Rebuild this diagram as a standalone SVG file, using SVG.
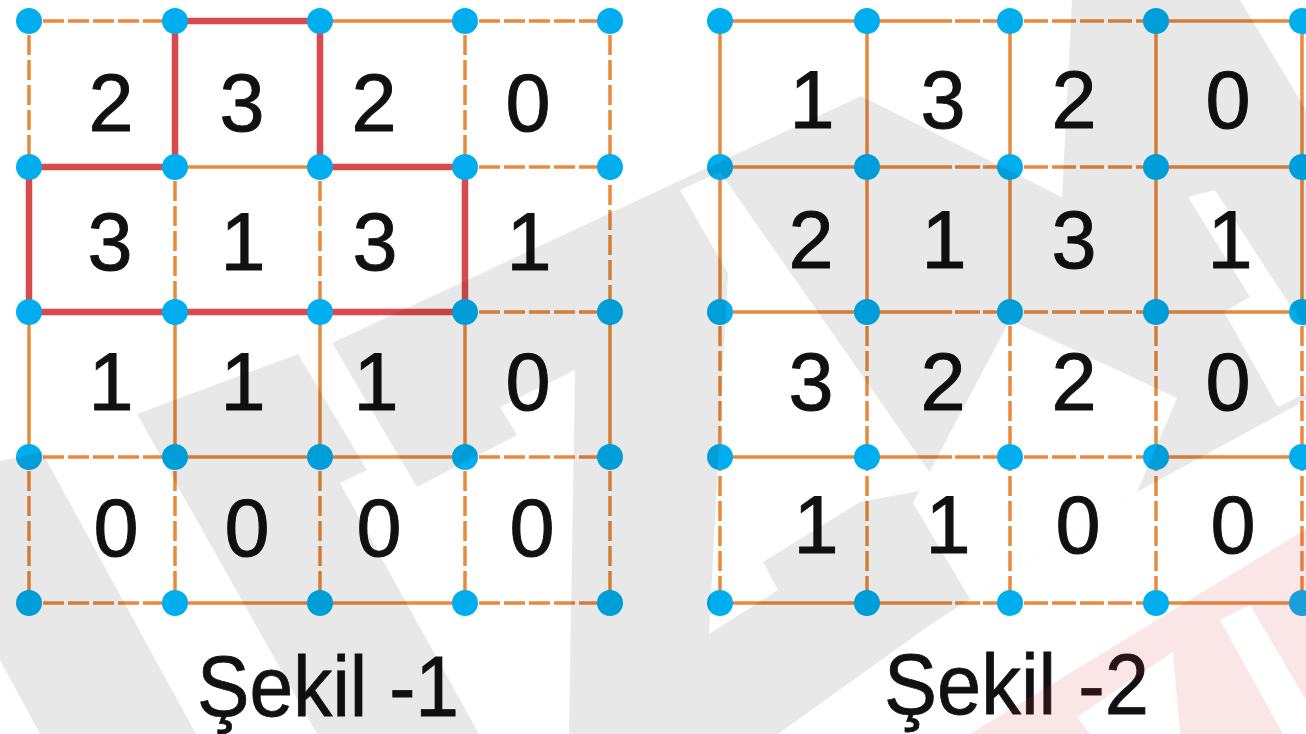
<svg xmlns="http://www.w3.org/2000/svg" width="1306" height="734" viewBox="0 0 1306 734">
<style>
.o{stroke:#E8893C;stroke-width:3.5;fill:none}
.hd{stroke-dasharray:21 4;stroke-dashoffset:-14}
.vd{stroke-dasharray:20 5;stroke-dashoffset:-14}
.hd2{stroke-dasharray:24 4;stroke-dashoffset:-14}
.ms{stroke-dasharray:85 3 25 3 60}
.r{stroke:#DA4A4D;stroke-width:6.5;fill:none;stroke-linecap:butt}
.dot{fill:#00AEEF}
.n{font-family:"Liberation Sans",Arial,sans-serif;font-size:81px;fill:#111;stroke:#111;stroke-width:1;text-anchor:middle}
.lbl{font-family:"Liberation Sans",Arial,sans-serif;font-size:85px;fill:#111;stroke:#111;stroke-width:0.8}
</style>
<defs>
<mask id="wm" maskUnits="userSpaceOnUse" x="0" y="0" width="1306" height="734">
<rect width="1306" height="734" fill="#000"/>
<polygon fill="#fff" points="0,461 42,452 196,734 40,734 0,660"/>
<polygon fill="#fff" points="137,414 298,354 367,470 340,483 479,734 317,734"/>
<polygon fill="#fff" points="332,343 861,96 1062,197 1072,0 1306,0 1306,734 569,734 575,370 500,407 517,435 417,487"/>
<polygon fill="#000" points="1240,0 1306,0 1306,110"/>
<polygon fill="#000" points="1188,197 1250,297 1224,312 1278,407 1306,393 1306,330 1215,190"/>
<polygon fill="#000" points="680,190 720,172 940,487 860,502 763,562 778,590 709,634 728,273"/>
<polygon fill="#000" points="1010,320 1177,398 1137,492 970,599 913,503"/>
<polygon fill="#000" points="778,734 930,625 970,599 1137,492 1306,400 1306,734"/>
</mask>
<mask id="pk" maskUnits="userSpaceOnUse" x="0" y="0" width="1306" height="734">
<rect width="1306" height="734" fill="#000"/>
<polygon fill="#fff" points="970,734 1306,529 1306,734"/>
<polygon fill="#000" points="1077,717 1173,652 1180,734 1090,734"/>
<polygon fill="#000" points="1220,620 1250,605 1306,700 1306,734 1283,734"/>
</mask>
</defs>
<rect width="1306" height="734" fill="#fff"/>
<g id="connectors">
<g id="fig1-lines">
<path class="o hd" d="M29,21H175M465,21H610M465,167H610M465,312H610M29,457H175M465,457H610M29,603H175M465,603H610"/>
<path class="o" d="M320,21H465M175,167H320M175,457H465M175,603H465"/>
<path class="o vd" d="M29,21V167M29,457V603M175,167V312M175,457V603M320,167V312M320,457V603M465,21V167M465,457V603M610,21V312M610,457V603"/>
<path class="o" d="M29,312V457M175,312V457M320,312V457M465,312V457M610,312V457"/>
<path class="r" d="M175,21H320M29,167H175M320,167H465M29,312H465M29,167V312M175,21V167M320,21V167M465,167V312"/>
</g>
<g id="fig2-lines">
<path class="o" d="M720,21H867M1156,21H1302M720,167H867M1156,167H1302M720,312H867M1156,312H1302M720,457H867M1156,457H1302M720,603H867M1156,603H1302"/>
<path class="o ms" d="M867,21H1010M867,167H1010M867,312H1010M867,457H1010M867,603H1010"/>
<path class="o hd2" d="M1010,21H1156M1010,167H1156M1010,312H1156M1010,457H1156M1010,603H1156"/>
<path class="o" d="M720,21V312M867,21V312M1010,21V312M1156,21V312M1302,21V312"/>
<path class="o vd" d="M720,312V603M867,312V603M1010,312V603M1156,312V603M1302,312V603"/>
</g>
</g>
<g id="fig1-nodes" class="dot">
<circle cx="29" cy="21" r="13"/><circle cx="175" cy="21" r="13"/><circle cx="320" cy="21" r="13"/><circle cx="465" cy="21" r="13"/><circle cx="610" cy="21" r="13"/>
<circle cx="29" cy="167" r="13"/><circle cx="175" cy="167" r="13"/><circle cx="320" cy="167" r="13"/><circle cx="465" cy="167" r="13"/><circle cx="610" cy="167" r="13"/>
<circle cx="29" cy="312" r="13"/><circle cx="175" cy="312" r="13"/><circle cx="320" cy="312" r="13"/><circle cx="465" cy="312" r="13"/><circle cx="610" cy="312" r="13"/>
<circle cx="29" cy="457" r="13"/><circle cx="175" cy="457" r="13"/><circle cx="320" cy="457" r="13"/><circle cx="465" cy="457" r="13"/><circle cx="610" cy="457" r="13"/>
<circle cx="29" cy="603" r="13"/><circle cx="175" cy="603" r="13"/><circle cx="320" cy="603" r="13"/><circle cx="465" cy="603" r="13"/><circle cx="610" cy="603" r="13"/>
</g>
<g id="fig2-nodes" class="dot">
<circle cx="720" cy="21" r="13"/><circle cx="867" cy="21" r="13"/><circle cx="1010" cy="21" r="13"/><circle cx="1156" cy="21" r="13"/><circle cx="1302" cy="21" r="13"/>
<circle cx="720" cy="167" r="13"/><circle cx="867" cy="167" r="13"/><circle cx="1010" cy="167" r="13"/><circle cx="1156" cy="167" r="13"/><circle cx="1302" cy="167" r="13"/>
<circle cx="720" cy="312" r="13"/><circle cx="867" cy="312" r="13"/><circle cx="1010" cy="312" r="13"/><circle cx="1156" cy="312" r="13"/><circle cx="1302" cy="312" r="13"/>
<circle cx="720" cy="457" r="13"/><circle cx="867" cy="457" r="13"/><circle cx="1010" cy="457" r="13"/><circle cx="1156" cy="457" r="13"/><circle cx="1302" cy="457" r="13"/>
<circle cx="720" cy="603" r="13"/><circle cx="867" cy="603" r="13"/><circle cx="1010" cy="603" r="13"/><circle cx="1156" cy="603" r="13"/><circle cx="1302" cy="603" r="13"/>
</g>
<g id="fig1-values" class="n">
<text x="111" y="131">2</text><text x="242" y="131">3</text><text x="374" y="131">2</text><text x="528" y="131">0</text>
<text x="110" y="270">3</text><text x="243" y="270">1</text><text x="375" y="270">3</text><text x="529" y="270">1</text>
<text x="111" y="410">1</text><text x="243" y="410">1</text><text x="376" y="410">1</text><text x="528" y="410">0</text>
<text x="116" y="556">0</text><text x="247" y="556">0</text><text x="379" y="556">0</text><text x="532" y="556">0</text>
</g>
<g id="fig2-values" class="n">
<text x="812" y="128">1</text><text x="943" y="128">3</text><text x="1074" y="128">2</text><text x="1228" y="128">0</text>
<text x="811" y="268">2</text><text x="944" y="268">1</text><text x="1074" y="268">3</text><text x="1230" y="268">1</text>
<text x="811" y="410">3</text><text x="943" y="410">2</text><text x="1074" y="410">2</text><text x="1228" y="410">0</text>
<text x="816" y="553">1</text><text x="948" y="553">1</text><text x="1078" y="553">0</text><text x="1233" y="553">0</text>
</g>
<g id="labels" class="lbl">
<text x="197" y="716" textLength="262" lengthAdjust="spacingAndGlyphs">Şekil -1</text>
<text x="884" y="714" textLength="265" lengthAdjust="spacingAndGlyphs">Şekil -2</text>
</g>
<g id="watermark">
<rect width="1306" height="734" fill="#000" fill-opacity="0.09" mask="url(#wm)"/>
<rect width="1306" height="734" fill="#E0323C" fill-opacity="0.12" mask="url(#pk)"/>
</g>
</svg>
